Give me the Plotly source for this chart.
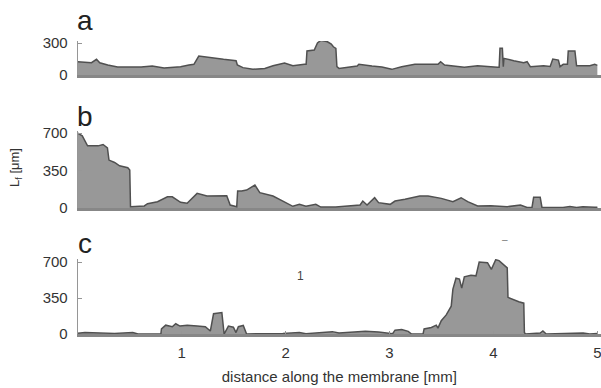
import plotly.graph_objects as go

# ---- data (distance in mm, L_f in µm) ----
a_x = [0.0, 0.133, 0.181, 0.212, 0.289, 0.384, 0.61, 0.717, 0.831, 0.99, 1.07, 1.118, 1.165,
       1.276, 1.403, 1.524, 1.536, 1.59, 1.686, 1.8, 1.879, 1.99, 2.07, 2.181, 2.198, 2.206,
       2.276, 2.307, 2.339, 2.403, 2.44, 2.46, 2.484, 2.494, 2.514, 2.689, 2.705, 2.831, 2.927,
       3.022, 3.117, 3.244, 3.467, 3.492, 3.53, 3.72, 3.848, 4.038, 4.055, 4.063, 4.086, 4.095,
       4.101, 4.196, 4.291, 4.324, 4.355, 4.482, 4.546, 4.571, 4.625, 4.641, 4.672, 4.712,
       4.72, 4.784, 4.8, 4.927, 4.975, 5.0]
a_y = [125, 115, 147, 115, 94, 75, 75, 84, 66, 78, 94, 100, 178,
       162, 147, 134, 94, 69, 53, 62, 87, 112, 87, 100, 100, 225,
       234, 300, 325, 312, 290, 265, 250, 78, 62, 84, 100, 84, 75,
       53, 78, 100, 100, 125, 94, 72, 87, 72, 72, 250, 250, 78,
       156, 134, 115, 125, 78, 87, 80, 150, 140, 78, 100, 100,
       225, 225, 87, 87, 100, 90]

b_x = [0.0, 0.044, 0.095, 0.196, 0.244, 0.286, 0.301, 0.355, 0.403, 0.482, 0.501, 0.508,
       0.641, 0.672, 0.768, 0.863, 0.91, 0.99, 1.053, 1.149, 1.244, 1.434, 1.467, 1.53, 1.539,
       1.577, 1.625, 1.705, 1.752, 1.879, 1.974, 2.07, 2.133, 2.196, 2.291, 2.339, 2.482, 2.67,
       2.717, 2.743, 2.784, 2.857, 2.895, 3.006, 3.053, 3.149, 3.291, 3.371, 3.498, 3.61, 3.689,
       3.752, 3.848, 3.974, 4.133, 4.26, 4.324, 4.371, 4.387, 4.45, 4.467, 4.67, 4.736, 4.8,
       4.86, 4.975, 5.0]
b_y = [700, 675, 581, 581, 594, 563, 448, 426, 395, 376, 355, 12,
       19, 40, 59, 105, 105, 53, 44, 137, 112, 115, 28, 12, 159,
       159, 168, 215, 143, 112, 65, 16, 34, 16, 34, 9, 9, 19,
       28, 65, 28, 96, 50, 34, 65, 81, 112, 112, 90, 59, 96,
       59, 19, 22, 12, 28, 5, 5, 100, 100, 5, 5, 15, 5,
       12, 8, 8]

c_x = [0.0, 0.07, 0.355, 0.53, 0.58, 0.80, 0.806, 0.847, 0.91, 0.943, 0.984, 1.054, 1.149,
       1.228, 1.276, 1.307, 1.387, 1.409, 1.45, 1.498, 1.523, 1.546, 1.593, 1.625, 1.974,
       2.133, 2.196, 2.45, 2.514, 2.64, 2.768, 2.895, 2.975, 3.03, 3.053, 3.117, 3.18, 3.212,
       3.323, 3.333, 3.403, 3.45, 3.466, 3.498, 3.546, 3.594, 3.61, 3.64, 3.673, 3.695, 3.72,
       3.784, 3.832, 3.863, 3.943, 3.98, 4.022, 4.054, 4.133, 4.14, 4.244, 4.292, 4.298,
       4.308, 4.45, 4.476, 4.508, 4.705, 4.863, 4.927, 5.0]
c_y = [8, 14, 6, 14, 0, 0, 49, 86, 71, 100, 77, 86, 77,
       71, 29, 197, 209, 0, 77, 66, 14, 71, 83, 0, 6,
       14, 3, 23, 9, 20, 26, 20, 9, 3, 37, 43, 26, 0,
       0, 49, 63, 86, 57, 129, 186, 271, 437, 543, 534, 446, 557,
       571, 566, 700, 694, 629, 723, 714, 643, 357, 314, 300, 14,
       0, 9, 29, 0, 9, 9, 0, 5]

x_ticks = [1, 2, 3, 4, 5]
a_ticks = [0, 300]
bc_ticks = [0, 350, 700]

# ---- figure ----
W, H = 601, 388
FONT = "Liberation Sans, Arial, sans-serif"
fill_col = "rgb(152,152,152)"
line_col = "rgb(80,80,80)"

def py(p):  # pixel from top -> paper
    return 1 - p / H

fig = go.Figure()
for xs, ys, xa, ya in [(a_x, a_y, "x", "y"), (b_x, b_y, "x2", "y2"), (c_x, c_y, "x3", "y3")]:
    fig.add_trace(go.Scatter(x=xs, y=ys, xaxis=xa, yaxis=ya, mode="lines",
                             fill="tozeroy", fillcolor=fill_col,
                             line=dict(color=line_col, width=1.5),
                             hoverinfo="skip", showlegend=False))

xdom = [77.7 / W, 1.0]
common_x = dict(domain=xdom, range=[0, 5.035], showgrid=False, zeroline=False, automargin=False,
                showline=True, linecolor="rgb(135,135,135)", linewidth=2.5)
common_y = dict(showgrid=False, zeroline=False, showline=True, automargin=False,
                linecolor="rgb(150,150,150)", linewidth=1,
                ticks="inside", ticklen=4, tickcolor="rgb(150,150,150)",
                tickfont=dict(family=FONT, size=15, color="#333"),
                ticklabelstandoff=6)

fig.update_layout(
    width=W, height=H,
    margin=dict(l=0, r=0, t=0, b=0, autoexpand=False),
    paper_bgcolor="white", plot_bgcolor="white",
    xaxis=dict(**common_x, anchor="y", showticklabels=False, ticks=""),
    xaxis2=dict(**common_x, anchor="y2", showticklabels=False, ticks=""),
    xaxis3=dict(**common_x, anchor="y3", tickvals=x_ticks, ticks="inside", ticklen=3,
                tickcolor="rgb(150,150,150)", ticklabeloverflow="allow", ticklabelstandoff=3,
                tickfont=dict(family=FONT, size=15, color="#333"),
                title=dict(text="distance along the membrane [mm]", standoff=12,
                           font=dict(family=FONT, size=15, color="#333"))),
    yaxis=dict(**common_y, domain=[py(75), py(41)], range=[0, 319], tickvals=a_ticks, anchor="x"),
    yaxis2=dict(**common_y, domain=[py(208), py(131)], range=[0, 720], tickvals=bc_ticks, anchor="x2"),
    yaxis3=dict(**common_y, domain=[py(334), py(259)], range=[0, 730], tickvals=bc_ticks, anchor="x3"),
)

ann = []
for lab, yc in [("a", 20), ("b", 116), ("c", 243)]:
    ann.append(dict(text=lab, x=85 / W, y=py(yc), xref="paper", yref="paper",
                    xanchor="center", yanchor="middle", showarrow=False,
                    font=dict(family=FONT, size=28, color="#222")))
ann.append(dict(text="L<sub>f</sub> [μm]", x=15 / W, y=py(168), xref="paper", yref="paper",
                xanchor="center", yanchor="middle", showarrow=False, textangle=-90,
                font=dict(family=FONT, size=13, color="#333")))
ann.append(dict(text="1", x=300 / W, y=py(276), xref="paper", yref="paper",
                xanchor="center", yanchor="middle", showarrow=False,
                font=dict(family=FONT, size=12, color="#444")))
ann.append(dict(text="–", x=505 / W, y=py(239), xref="paper", yref="paper",
                xanchor="center", yanchor="middle", showarrow=False,
                font=dict(family=FONT, size=10, color="#777")))
fig.update_layout(annotations=ann)

fig.write_html("out.html", config={"displayModeBar": False},
               post_script="document.body.style.margin='0';document.body.style.overflow='hidden';")
